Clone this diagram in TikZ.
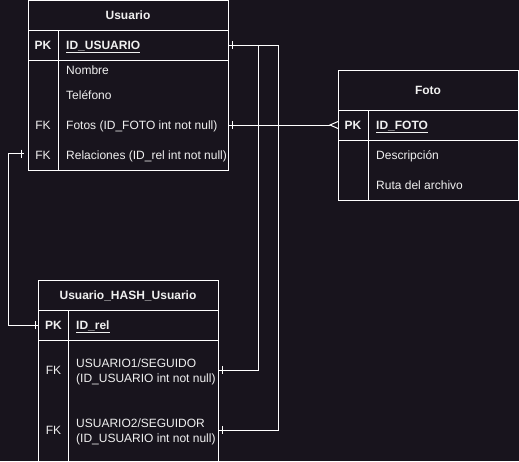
\documentclass[tikz,border=0pt]{standalone}
\usepackage{fontspec}
\setmainfont{Liberation Sans}
\usetikzlibrary{calc}
\definecolor{bg}{RGB}{24,20,29}
\definecolor{fg}{RGB}{240,240,240}
\begin{document}
\begin{tikzpicture}[x=1pt,y=-1pt,
  tbl/.style={draw=white, line width=1pt, anchor=north west, inner sep=0pt, outer sep=0pt},
  sepline/.style={draw=white, line width=1pt},
  conn/.style={draw=white, line width=1pt},
  txt/.style={anchor=base west, inner sep=0pt, text=fg, font=\fontsize{12}{15}\selectfont},
  ctxt/.style={anchor=base, inner sep=0pt, text=fg, font=\fontsize{12}{15}\selectfont},
  btxt/.style={txt, font=\fontsize{12}{15}\selectfont\bfseries},
  hdr/.style={ctxt, font=\fontsize{12}{15}\selectfont\bfseries}]
\useasboundingbox[fill=bg] (0,0) rectangle (519,461);

% ---------- Usuario ----------
\node[tbl, minimum width=200pt, minimum height=169.5pt] (usuario) at (28,0.5) {};
\draw[sepline] (28,30) -- (228,30);
\draw[sepline] (28,60) -- (228,60);
\draw[sepline] (58,30) -- (58,170);
\node[hdr] (usrh) at (128,19.3) {Usuario};
\node[hdr] (usrpk) at (43,49.3) {PK};
\node[btxt] (usrid) at (66,49.3) {\underline{ID\_USUARIO}};
\node[txt] (usrnom) at (66,74.3) {Nombre};
\node[txt] (usrtel) at (66,99.3) {Teléfono};
\node[ctxt] (usrfk1) at (43,129.3) {FK};
\node[txt] (usrfot) at (66,129.3) {Fotos (ID\_FOTO int not null)};
\node[ctxt] (usrfk2) at (43,159.3) {FK};
\node[txt] (usrrel) at (66,159.3) {Relaciones (ID\_rel int not null)};

% ---------- Foto ----------
\node[tbl, minimum width=180pt, minimum height=130pt] (foto) at (338,70) {};
\draw[sepline] (338,110) -- (518,110);
\draw[sepline] (338,140) -- (518,140);
\draw[sepline] (368,110) -- (368,200);
\node[hdr] (fotoh) at (428,94.3) {Foto};
\node[hdr] (fotopk) at (353,129.3) {PK};
\node[btxt] (fotoid) at (376,129.3) {\underline{ID\_FOTO}};
\node[txt] (fotodes) at (376,159.3) {Descripción};
\node[txt] (fotoruta) at (376,189.3) {Ruta del archivo};

% ---------- Usuario_HASH_Usuario ----------
\node[tbl, minimum width=180pt, minimum height=195pt] (hash) at (38.5,280) {};
\draw[sepline] (38.5,310) -- (218.5,310);
\draw[sepline] (38.5,340.5) -- (218.5,340.5);
\draw[sepline] (68.5,310) -- (68.5,475);
\node[hdr] (hashh) at (128,299.3) {Usuario\_HASH\_Usuario};
\node[hdr] (hashpk) at (53.5,329.3) {PK};
\node[btxt] (hashid) at (76,329.3) {\underline{ID\_rel}};
\node[ctxt] (hashfk1) at (53.5,374.3) {FK};
\node[txt] (hashu1) at (76,367.3) {\vtop{\hbox{USUARIO1/SEGUIDO}\hbox{(ID\_USUARIO int not null)}}};
\node[ctxt] (hashfk2) at (53.5,434.3) {FK};
\node[txt] (hashu2) at (76,427.3) {\vtop{\hbox{USUARIO2/SEGUIDOR}\hbox{(ID\_USUARIO int not null)}}};

% ---------- connector end points ----------
\coordinate (uPKr) at (228,45);
\coordinate (uFOr) at (228,125);
\coordinate (uRELl) at (24,153.7);
\coordinate (fPKl) at (338,125);
\coordinate (hPKl) at (38.5,325);
\coordinate (hFK1r) at (218.5,370);
\coordinate (hFK2r) at (218.5,430);

% ---------- connectors ----------
\draw[conn] (uPKr) -- ++(50,0) |- (hFK2r);
\draw[conn] (uPKr) -- ++(30,0) |- (hFK1r);
\draw[conn] (uFOr) -- ($(fPKl)+(-8,0)$);
\draw[conn] (uRELl) -- ++(-16,0) |- (hPKl);

% ER "one" ticks
\draw[conn] ($(uPKr)+(4,-4)$) -- ++(0,8);
\draw[conn] ($(uFOr)+(4,-4)$) -- ++(0,8);
\draw[conn] ($(hFK1r)+(3.5,-4)$) -- ++(0,8);
\draw[conn] ($(hFK2r)+(3.5,-4)$) -- ++(0,8);
\draw[conn] ($(uRELl)+(-3,-4)$) -- ++(0,8);
\draw[conn] ($(hPKl)+(-3.5,-4)$) -- ++(0,8);
% ER "many" crow's foot
\draw[conn] ($(fPKl)+(0,-3.5)$) -- ($(fPKl)+(-8,0)$) -- ($(fPKl)+(0,3.5)$);
\end{tikzpicture}
\end{document}
